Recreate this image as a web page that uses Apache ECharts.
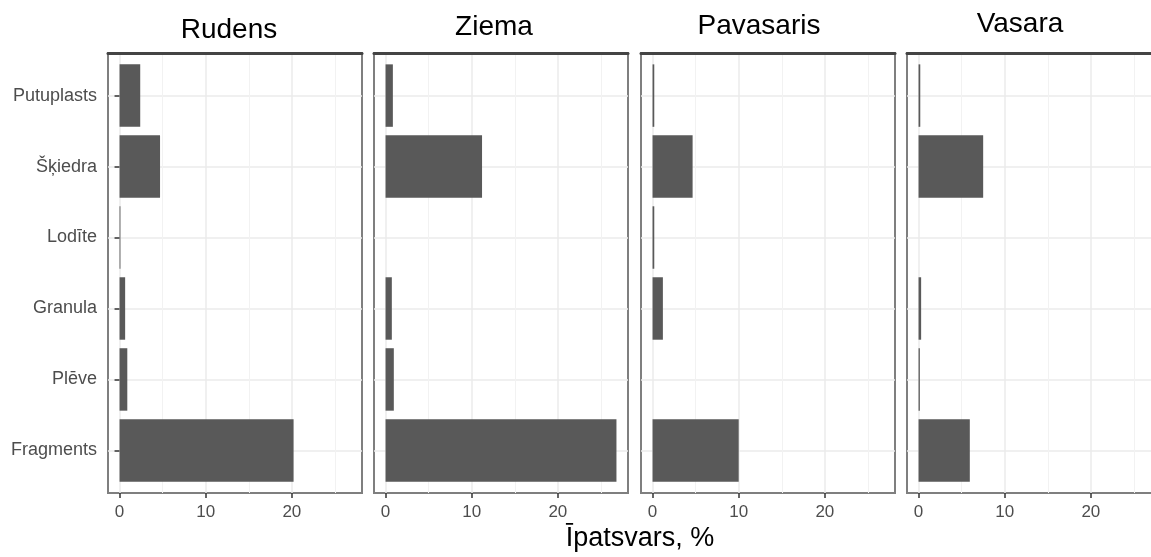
<!DOCTYPE html>
<html>
<head>
<meta charset="utf-8">
<script src="https://cdn.jsdelivr.net/npm/echarts@6/dist/echarts.min.js"></script>
<style>
  html, body { margin: 0; padding: 0; background: #fff; }
  #chart { width: 1151px; height: 557px; }
</style>
</head>
<body>
<div id="chart"></div>
<script>
// sezonas (paneļi) un daļiņu tipi
var seasons = ['Rudens', 'Ziema', 'Pavasaris', 'Vasara'];
var types = ['Putuplasts', 'Šķiedra', 'Lodīte', 'Granula', 'Plēve', 'Fragments'];
var xTicks = [0, 10, 20];

// īpatsvars, % (no augšas uz leju kā types)
var rudens = [2.4, 4.7, 0.1, 0.65, 0.9, 20.2];
var ziema = [0.85, 11.2, 0, 0.73, 0.96, 26.8];
var pavasaris = [0.2, 4.65, 0.2, 1.2, 0, 10.0];
var vasara = [0.2, 7.5, 0, 0.3, 0.15, 5.95];
var values = [rudens, ziema, pavasaris, vasara];

var font = 'Liberation Sans, Arial, sans-serif';
var xMin = -1.34, xMax = 28.14;

// paneļu izvietojums
var panelLeft = [108, 374, 641, 907];
var panelW = 254, panelTop = 53, panelH = 440;
var inset = panelH / 6.2 * 0.1;   // ggplot expand 0.6 vs 0.5
var titleX = [229, 494, 759, 1020];
var titleY = [30, 27, 26, 24];

var myChart = echarts.init(document.getElementById('chart'), null, { renderer: 'canvas' });

var grid = [], xAxis = [], yAxis = [], series = [], graphic = [];

seasons.forEach(function (name, i) {
    // rāmis + vertikālās līnijas
    grid.push({
        left: panelLeft[i], top: panelTop, width: panelW, height: panelH,
        show: true, borderColor: '#7f7f7f', borderWidth: 2,
        backgroundColor: 'transparent', containLabel: false, outerBoundsMode: 'none'
    });
    // datu režģis (iekšā pa vertikāli)
    grid.push({
        left: panelLeft[i], top: panelTop + inset, width: panelW, height: panelH - 2 * inset,
        show: false, containLabel: false, outerBoundsMode: 'none'
    });

    xAxis.push({
        gridIndex: 2 * i, type: 'value', min: xMin, max: xMax, splitNumber: 3,
        axisLine: { show: false },
        axisTick: { show: true, length: 5, customValues: xTicks, lineStyle: { color: '#333', width: 1.5 } },
        axisLabel: { customValues: xTicks, color: '#4d4d4d', fontSize: 17, fontFamily: font, margin: 11 },
        splitLine: { show: true, lineStyle: { color: '#ebebeb', width: 1.5 } },
        minorTick: { show: false, splitNumber: 2 },
        minorSplitLine: { show: true, lineStyle: { color: '#f2f2f2', width: 1 } }
    });
    xAxis.push({
        gridIndex: 2 * i, type: 'value', min: xMin, max: xMax, position: 'top',
        axisLine: { show: true, lineStyle: { color: '#444', width: 3 } },
        axisTick: { show: false }, axisLabel: { show: false }, splitLine: { show: false }
    });
    xAxis.push({
        gridIndex: 2 * i + 1, type: 'value', min: xMin, max: xMax, show: false
    });

    yAxis.push({ gridIndex: 2 * i, type: 'value', min: 0, max: 1, show: false });
    yAxis.push({
        gridIndex: 2 * i + 1, type: 'category', data: types, inverse: true,
        axisLine: { show: false },
        axisTick: { show: i === 0, alignWithLabel: true, length: 5, lineStyle: { color: '#333', width: 1.5 } },
        axisLabel: { show: i === 0, color: '#4d4d4d', fontSize: 18, fontFamily: font, margin: 11 },
        splitLine: { show: true, alignWithLabel: true, lineStyle: { color: '#ebebeb', width: 1.5 } }
    });

    series.push({
        name: name, type: 'bar',
        xAxisIndex: 3 * i + 2, yAxisIndex: 2 * i + 1,
        data: values[i], barWidth: '88%',
        itemStyle: { color: '#595959' },
        silent: true
    });

    graphic.push({
        type: 'text', x: titleX[i], y: titleY[i],
        style: { text: name, font: '28px ' + font, fill: '#000', align: 'center', verticalAlign: 'middle' }
    });
});

graphic.push({
    type: 'text', x: 640, y: 539,
    style: { text: 'Īpatsvars, %', font: '27px ' + font, fill: '#000', align: 'center', verticalAlign: 'middle' }
});

var option = {
    backgroundColor: '#fff',
    animation: false,
    grid: grid,
    xAxis: xAxis,
    yAxis: yAxis,
    series: series,
    graphic: graphic
};

option && myChart.setOption(option);
</script>
</body>
</html>
